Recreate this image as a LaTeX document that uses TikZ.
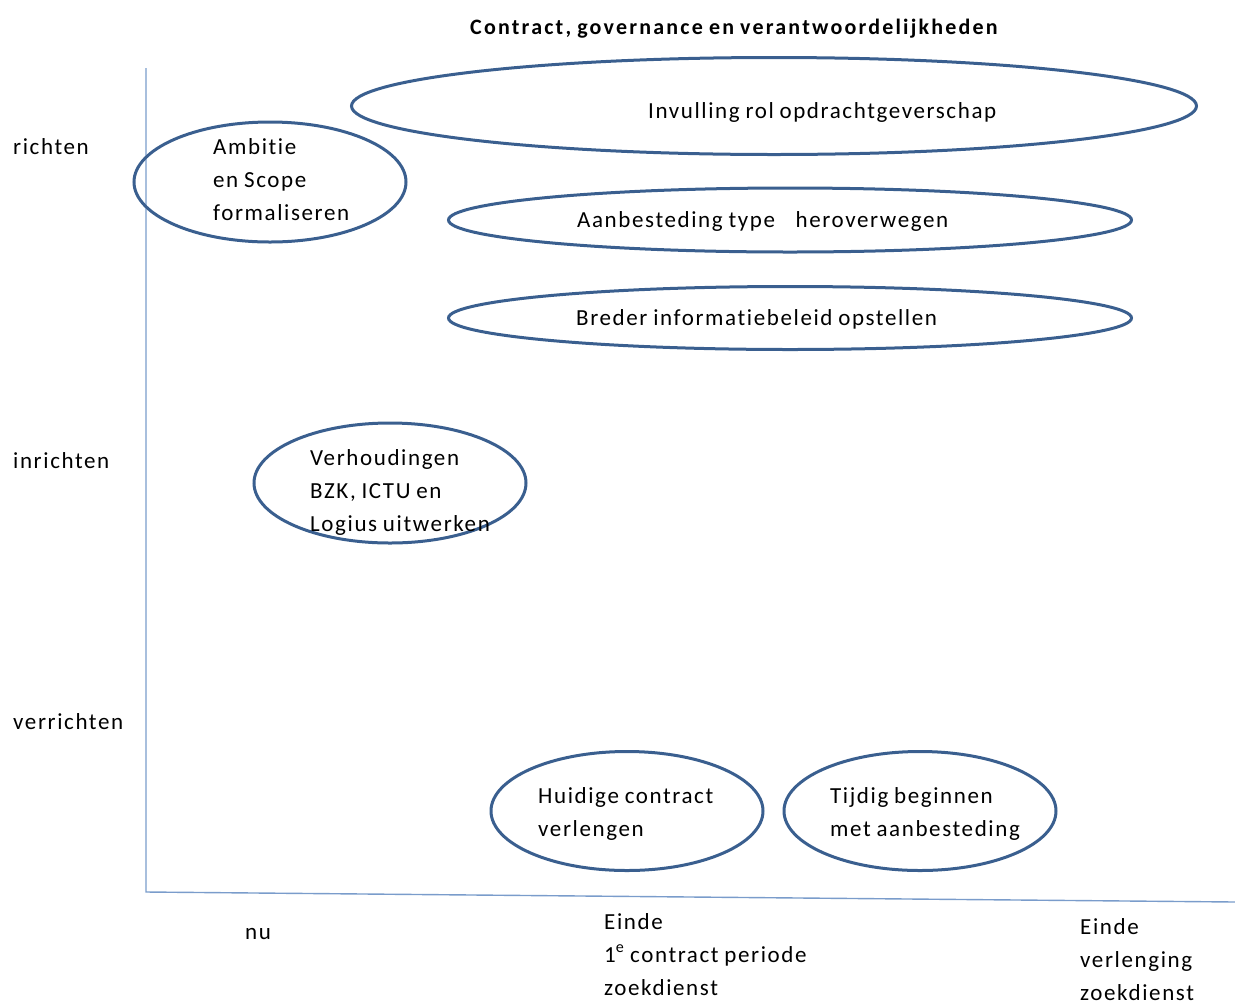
\documentclass[tikz,border=0pt]{standalone}
\usepackage{fontspec}
\setmainfont[LetterSpace=7,Ligatures=NoCommon,WordSpace=0.85]{Carlito}
\usetikzlibrary{shapes.geometric}
\definecolor{ovalblue}{HTML}{3A5F8F}
\definecolor{axisblue}{HTML}{7A9CCB}
\begin{document}
\begin{tikzpicture}[x=1pt,y=-1pt,
  oval/.style={draw=ovalblue, line width=3pt, ellipse, inner sep=0pt},
  lbl/.style={font=\fontsize{23}{33}\selectfont, inner sep=0pt, anchor=base west, align=left},
  ttl/.style={font=\fontsize{22}{26}\selectfont\bfseries\addfontfeature{LetterSpace=10}, inner sep=0pt, anchor=base},
  axis/.style={draw=axisblue, line width=1.4pt}]
\useasboundingbox (0,0) rectangle (1235,1005);

% title
\node[ttl] (title) at (734,34) {Contract, governance en verantwoordelijkheden};

% axes
\coordinate (ytop) at (146,68);
\coordinate (origin) at (146,892);
\coordinate (xend) at (1235,902);
\draw[axis] (ytop) -- (origin) -- (xend);

% level labels (multi-line nodes sit on the baseline of their last line)
\node[lbl] (richten) at (13,154) {richten};
\node[lbl] (inrichten) at (13,468) {inrichten};
\node[lbl] (verrichten) at (13,729) {verrichten};

% time labels
\node[lbl] (nu) at (245,939) {nu};
\node[lbl] (einde1) at (604,995) {Einde\\1\textsuperscript{e} contract periode\\zoekdienst};
\node[lbl] (einde2) at (1080,1000) {Einde\\verlenging\\zoekdienst};

% ovals
\node[oval, minimum width=272, minimum height=120] (ambitie) at (270,182) {};
\node[oval, minimum width=845, minimum height=97] (invulling) at (774,106) {};
\node[oval, minimum width=683, minimum height=64] (aanbesteding) at (790,220) {};
\node[oval, minimum width=683, minimum height=63] (breder) at (790,318) {};
\node[oval, minimum width=272, minimum height=120] (verhoudingen) at (390,483) {};
\node[oval, minimum width=272, minimum height=119] (huidige) at (627,811) {};
\node[oval, minimum width=272, minimum height=119] (tijdig) at (920,811) {};

% oval texts
\node[lbl] (tambitie) at (213,220) {Ambitie\\en Scope\\formaliseren};
\node[lbl] (tinvulling) at (648,118) {Invulling rol opdrachtgeverschap};
\node[lbl] (taanbesteding) at (577,227) {Aanbesteding type\hspace{0.9em}heroverwegen};
\node[lbl] (tbreder) at (576,325) {Breder informatiebeleid opstellen};
\node[lbl] (tverhoudingen) at (310,531) {Verhoudingen\\BZK, ICTU en\\Logius uitwerken};
\node[lbl] (thuidige) at (538,836) {Huidige contract\\verlengen};
\node[lbl] (ttijdig) at (830,836) {Tijdig beginnen\\met aanbesteding};
\end{tikzpicture}
\end{document}
